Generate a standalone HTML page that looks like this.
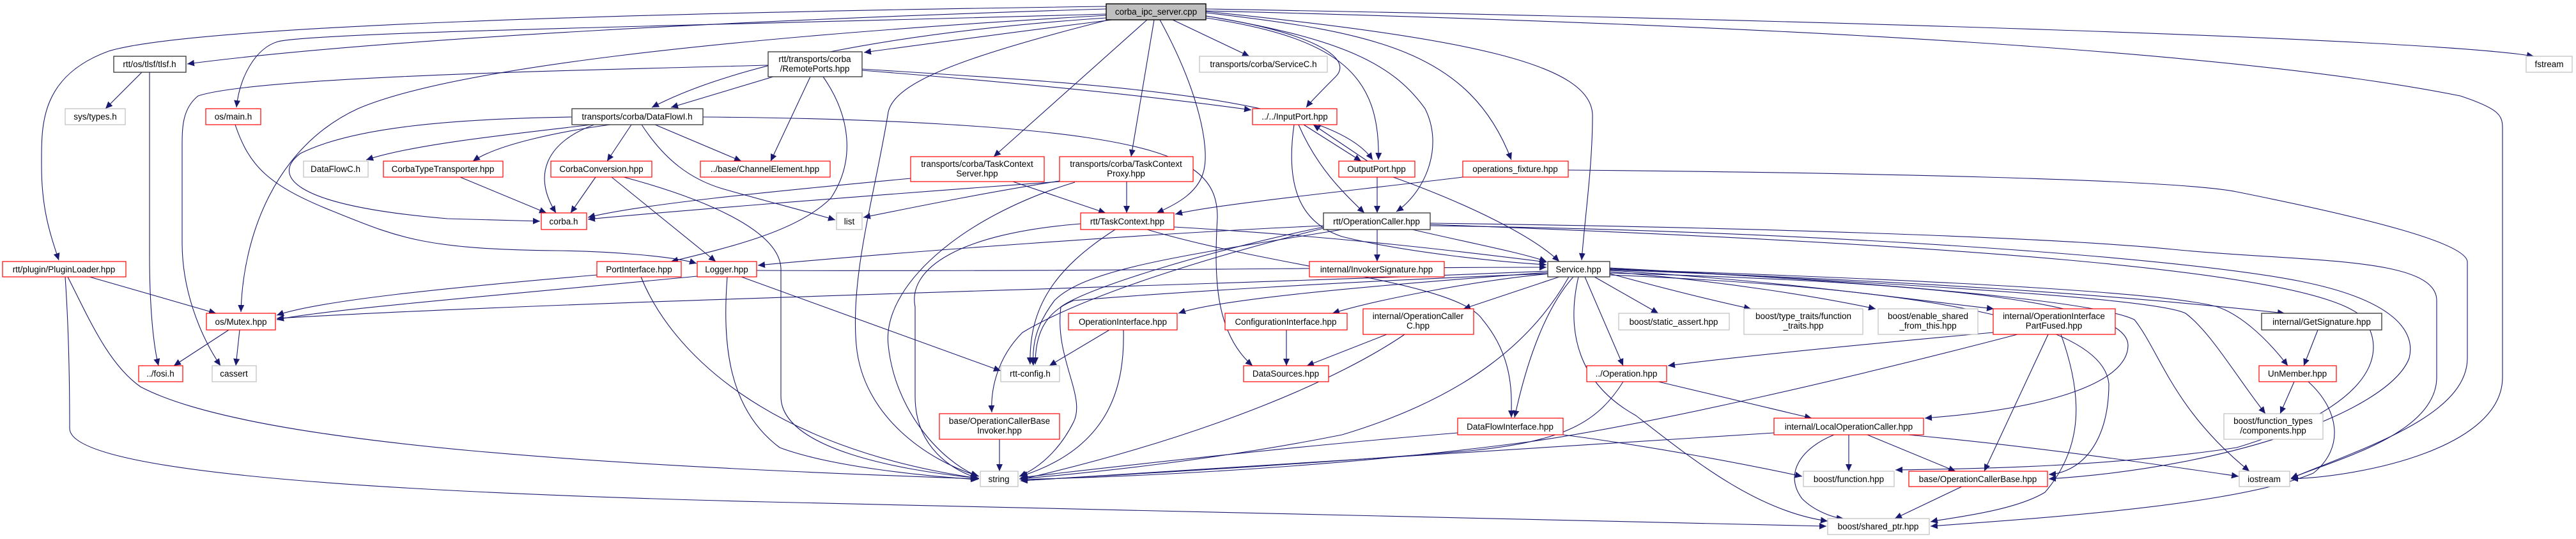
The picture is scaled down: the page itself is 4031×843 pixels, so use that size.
<!DOCTYPE html>
<html><head><meta charset="utf-8"><style>
html,body{margin:0;padding:0;background:#fff;}
svg{display:block;}
text{font-family:"Liberation Sans",sans-serif;font-size:13.5px;fill:#000;text-anchor:middle;}
.e{fill:none;stroke:#191970;stroke-width:1.1;marker-end:url(#a);}
.r{fill:#fff;stroke:#ff0000;stroke-width:1.2;}
.k{fill:#fff;stroke:#404040;stroke-width:1.4;}
.g{fill:#fff;stroke:#bfbfbf;stroke-width:1.2;}
</style></head><body>
<svg width="4031" height="843" viewBox="0 0 4031 843" xmlns="http://www.w3.org/2000/svg">
<defs><marker id="a" markerUnits="userSpaceOnUse" markerWidth="12" markerHeight="10" refX="11" refY="5" orient="auto"><path d="M0,0 L11,5 L0,10 z" fill="#191970"/></marker></defs>
<g>
<path class="e" d="M1731,14 C1200,30 600,60 293,100"/>
<path class="e" d="M1731,10 C1000,20 300,40 170,80 C60,120 65,200 65,260 C65,330 80,370 92,407"/>
<path class="e" d="M1731,22 C1100,40 500,50 435,65 C400,75 375,120 370,168"/>
<path class="e" d="M1740,31 Q1550,55 1352,82"/>
<path class="e" d="M1731,28 C1400,50 1150,100 1020,168"/>
<path class="e" d="M1210,120 L1050,168"/>
<path class="e" d="M1735,31 C1500,90 1400,130 1390,175 C1370,300 1330,430 1340,540 C1350,650 1450,720 1532,745"/>
<path class="e" d="M895,183 C700,186 550,200 470,240 C430,270 440,320 700,342 L845,346"/>
<path class="e" d="M1731,24 C1100,60 700,110 560,170 C430,230 380,370 377,488"/>
<path class="e" d="M1795,31 L1555,245"/>
<path class="e" d="M1806,31 L1770,245"/>
<path class="e" d="M1815,31 C1880,150 1890,230 1885,260 C1880,300 1840,320 1810,333"/>
<path class="e" d="M1835,31 L1955,88"/>
<path class="e" d="M1887,25 C2050,50 2120,90 2090,120 C2070,140 2050,160 2044,168"/>
<path class="e" d="M1887,28 C2100,60 2160,120 2157,250"/>
<path class="e" d="M1349,108 C1700,130 2080,150 2148,250"/>
<path class="e" d="M1887,25 C2100,60 2180,100 2230,170 C2260,230 2230,300 2185,331"/>
<path class="e" d="M1887,20 C2150,50 2300,80 2365,250"/>
<path class="e" d="M1887,18 C2300,60 2490,100 2492,180 C2492,260 2480,340 2475,407"/>
<path class="e" d="M1887,14 C2800,30 3800,60 3965,88"/>
<path class="e" d="M1887,17 C2800,40 3500,80 3850,150 C3910,170 3916,180 3916,200 L3916,590 C3916,700 3700,745 3585,749"/>
<path class="e" d="M222,113 L165,170"/>
<path class="e" d="M234,113 L234,400 C234,480 240,540 248,572"/>
<path class="e" d="M368,195 C390,260 420,290 520,330 C620,370 660,390 870,392 C950,393 1050,400 1090,412"/>
<path class="e" d="M140,433 L338,490"/>
<path class="e" d="M106,433 C140,500 170,570 220,605 C400,700 1000,730 1532,749"/>
<path class="e" d="M102,433 C108,520 109,600 109,670 C109,740 600,770 1200,785 C2000,805 2600,820 2858,823"/>
<path class="e" d="M358,516 L272,572"/>
<path class="e" d="M375,516 L369,572"/>
<path class="e" d="M1202,102 C900,110 400,120 310,150 C285,170 285,200 285,230 L285,380 C285,450 310,520 345,572"/>
<path class="e" d="M925,195 C800,210 650,225 573,250"/>
<path class="e" d="M955,195 C880,205 780,225 740,252"/>
<path class="e" d="M930,195 C860,220 830,270 870,333"/>
<path class="e" d="M988,195 L950,252"/>
<path class="e" d="M1025,195 L1160,252"/>
<path class="e" d="M1004,195 C1040,250 1080,280 1130,295 C1200,315 1260,330 1307,344"/>
<path class="e" d="M1100,183 C1400,185 1600,200 1700,215 C1870,240 1905,280 1905,340 C1900,430 1900,520 1960,572"/>
<path class="e" d="M1268,120 L1206,252"/>
<path class="e" d="M1288,120 C1330,180 1340,250 1300,310 C1250,360 1150,385 1050,409"/>
<path class="e" d="M1349,110 C1600,130 1800,150 1958,172"/>
<path class="e" d="M720,277 L855,333"/>
<path class="e" d="M932,277 L893,333"/>
<path class="e" d="M957,277 L1120,409"/>
<path class="e" d="M976,277 C1100,310 1220,360 1222,420 L1222,620 C1222,700 1400,735 1532,748"/>
<path class="e" d="M1425,279 C1200,300 1000,320 920,340"/>
<path class="e" d="M1585,284 L1730,333"/>
<path class="e" d="M1658,284 C1300,310 1000,335 920,343"/>
<path class="e" d="M1658,283 C1550,300 1450,320 1351,340"/>
<path class="e" d="M1682,285 C1500,340 1380,450 1390,540 C1400,640 1470,720 1530,745"/>
<path class="e" d="M1763,284 L1763,333"/>
<path class="e" d="M1691,350 C1500,365 1420,420 1432,480 L1432,620 C1432,700 1490,735 1530,748"/>
<path class="e" d="M1745,359 C1650,420 1610,480 1612,570"/>
<path class="e" d="M1837,355 C2100,370 2300,395 2420,410"/>
<path class="e" d="M1795,359 C2000,420 2280,440 2320,500 C2370,560 2365,620 2365,653"/>
<path class="e" d="M934,430 C700,450 500,470 433,493"/>
<path class="e" d="M1003,433 C1050,550 1200,700 1530,748"/>
<path class="e" d="M1091,432 C800,460 500,485 433,500"/>
<path class="e" d="M1160,433 L1566,580"/>
<path class="e" d="M1138,433 C1130,540 1140,640 1220,700 C1300,730 1450,745 1530,750"/>
<path class="e" d="M1184,423 C1700,425 2100,418 2420,418"/>
<path class="e" d="M2040,195 L2130,252"/>
<path class="e" d="M2140,252 L2055,195"/>
<path class="e" d="M2032,195 C2060,260 2100,300 2135,333"/>
<path class="e" d="M2025,195 C2010,300 2040,350 2100,370 C2200,395 2350,410 2420,414"/>
<path class="e" d="M2155,277 L2155,333"/>
<path class="e" d="M2180,277 C2300,320 2400,370 2440,409"/>
<path class="e" d="M2289,277 C2100,300 1900,320 1839,335"/>
<path class="e" d="M2454,266 C2900,270 3400,280 3500,300 C3700,340 3861,380 3861,410 L3861,560 C3861,650 3700,700 3585,748"/>
<path class="e" d="M2155,359 L2155,409"/>
<path class="e" d="M2210,359 C2300,380 2380,395 2420,409"/>
<path class="e" d="M2071,353 C1800,365 1400,395 1186,415"/>
<path class="e" d="M2100,359 C1850,400 1700,420 1650,470 C1620,510 1615,540 1617,572"/>
<path class="e" d="M2071,357 C1900,400 1700,460 1600,520 C1560,560 1550,610 1552,645"/>
<path class="e" d="M2238,349 C2700,355 3200,370 3400,390 C3600,410 3813,400 3813,470 L3813,590 C3813,680 3650,720 3585,748"/>
<path class="e" d="M2238,353 C2800,360 3400,400 3600,440 C3750,470 3780,520 3770,560 C3740,640 3500,730 3206,749"/>
<path class="e" d="M2238,351 C3000,380 3640,420 3700,500 C3740,560 3700,640 3500,700 C3300,730 3100,733 2966,735"/>
<path class="e" d="M2071,355 C1900,390 1700,450 1660,480 C1650,560 1700,620 1680,660 C1660,700 1630,730 1595,745"/>
<path class="e" d="M2422,426 C2100,450 1900,470 1844,490"/>
<path class="e" d="M2425,428 C2300,440 2150,470 2085,490"/>
<path class="e" d="M2440,433 L2290,483"/>
<path class="e" d="M2462,433 C2420,480 2390,560 2370,653"/>
<path class="e" d="M2480,433 L2540,572"/>
<path class="e" d="M2495,433 L2595,490"/>
<path class="e" d="M2519,428 C2600,450 2680,470 2740,483"/>
<path class="e" d="M2519,425 C2700,440 2850,465 2935,483"/>
<path class="e" d="M2519,423 C2800,440 3000,470 3120,483"/>
<path class="e" d="M2519,422 C3000,440 3300,460 3575,490"/>
<path class="e" d="M2519,421 C3100,440 3400,460 3470,480 C3500,490 3540,520 3580,572"/>
<path class="e" d="M2519,420 C3100,450 3380,470 3420,490 C3460,520 3500,590 3545,647"/>
<path class="e" d="M2519,419 C3100,450 3300,480 3340,500 C3380,550 3400,640 3520,737"/>
<path class="e" d="M2422,424 C1800,450 900,470 433,498"/>
<path class="e" d="M2422,428 C2100,440 1800,460 1680,470 C1630,490 1620,530 1620,570"/>
<path class="e" d="M2470,433 C2450,520 2470,600 2560,650 C2650,720 2750,800 2860,815"/>
<path class="e" d="M2455,433 C2400,530 2300,620 2100,680 C1900,720 1700,740 1595,749"/>
<path class="e" d="M2519,427 C3000,440 3330,470 3330,540 C3330,600 3200,640 3012,654"/>
<path class="e" d="M2519,430 C3000,450 3290,500 3300,600 C3300,700 3250,740 3206,742"/>
<path class="e" d="M1736,516 L1642,572"/>
<path class="e" d="M1758,516 C1760,600 1740,700 1597,745"/>
<path class="e" d="M2013,516 L2013,572"/>
<path class="e" d="M2170,523 L2045,572"/>
<path class="e" d="M2198,523 C2100,590 1900,680 1597,750"/>
<path class="e" d="M1564,687 L1564,737"/>
<path class="e" d="M2540,597 C2500,660 2450,690 2300,705 C2000,730 1700,745 1597,752"/>
<path class="e" d="M2595,597 L2835,654"/>
<path class="e" d="M2281,677 C2000,700 1700,735 1597,747"/>
<path class="e" d="M2446,680 C2600,700 2750,730 2820,745"/>
<path class="e" d="M3119,520 C2900,540 2700,560 2610,572"/>
<path class="e" d="M3157,523 C2900,590 2600,660 2400,690 C2100,730 1800,745 1597,750"/>
<path class="e" d="M3205,523 L3105,737"/>
<path class="e" d="M3225,523 C3260,620 3260,700 3200,770 C3150,800 3050,810 3021,816"/>
<path class="e" d="M2776,677 C2400,700 2000,730 1597,752"/>
<path class="e" d="M2893,680 L2893,737"/>
<path class="e" d="M2922,680 L3060,737"/>
<path class="e" d="M2870,680 C2820,700 2790,740 2820,780 C2840,800 2870,810 2885,811"/>
<path class="e" d="M2986,680 C3200,700 3400,730 3503,745"/>
<path class="e" d="M3070,761 L2965,811"/>
<path class="e" d="M3627,516 L3605,572"/>
<path class="e" d="M3590,597 L3568,647"/>
<path class="e" d="M3612,597 C3660,640 3670,700 3620,740 C3500,790 3200,810 3021,823"/>
</g>
<g>
<rect x="1731" y="6" width="156" height="25" fill="#bfbfbf" stroke="#000" stroke-width="1.4"/><text x="1809" y="23">corba_ipc_server.cpp</text>
<rect class="k" x="178" y="88" width="113" height="25"/><text x="234" y="105">rtt/os/tlsf/tlsf.h</text>
<rect class="g" x="102" y="170" width="94" height="25"/><text x="149" y="187">sys/types.h</text>
<rect class="r" x="322" y="170" width="86" height="25"/><text x="365" y="187">os/main.h</text>
<rect class="g" x="475" y="252" width="101" height="25"/><text x="525" y="269">DataFlowC.h</text>
<rect class="r" x="600" y="252" width="187" height="25"/><text x="693" y="269">CorbaTypeTransporter.hpp</text>
<rect class="r" x="4" y="409" width="193" height="24"/><text x="100" y="426">rtt/plugin/PluginLoader.hpp</text>
<rect class="r" x="323" y="490" width="108" height="26"/><text x="377" y="508">os/Mutex.hpp</text>
<rect class="r" x="217" y="572" width="69" height="25"/><text x="251" y="589">../fosi.h</text>
<rect class="g" x="332" y="572" width="69" height="25"/><text x="366" y="589">cassert</text>
<rect class="k" x="1202" y="81" width="147" height="39"/><text x="1275" y="97">rtt/transports/corba</text><text x="1275" y="112">/RemotePorts.hpp</text>
<rect class="k" x="895" y="170" width="205" height="25"/><text x="997" y="187">transports/corba/DataFlowI.h</text>
<rect class="r" x="862" y="252" width="158" height="25"/><text x="941" y="269">CorbaConversion.hpp</text>
<rect class="r" x="1096" y="252" width="203" height="25"/><text x="1197" y="269">../base/ChannelElement.hpp</text>
<rect class="r" x="847" y="333" width="71" height="26"/><text x="882" y="351">corba.h</text>
<rect class="g" x="1309" y="333" width="40" height="26"/><text x="1329" y="351">list</text>
<rect class="r" x="934" y="409" width="132" height="24"/><text x="1000" y="426">PortInterface.hpp</text>
<rect class="r" x="1091" y="409" width="93" height="24"/><text x="1137" y="426">Logger.hpp</text>
<rect class="g" x="1877" y="88" width="200" height="25"/><text x="1977" y="105">transports/corba/ServiceC.h</text>
<rect class="r" x="1960" y="170" width="132" height="25"/><text x="2026" y="187">../../InputPort.hpp</text>
<rect class="r" x="1425" y="245" width="209" height="39"/><text x="1529" y="261">transports/corba/TaskContext</text><text x="1529" y="276">Server.hpp</text>
<rect class="r" x="1658" y="245" width="209" height="39"/><text x="1762" y="261">transports/corba/TaskContext</text><text x="1762" y="276">Proxy.hpp</text>
<rect class="r" x="1691" y="333" width="146" height="26"/><text x="1764" y="351">rtt/TaskContext.hpp</text>
<rect class="r" x="1672" y="490" width="170" height="26"/><text x="1757" y="508">OperationInterface.hpp</text>
<rect class="r" x="1917" y="490" width="191" height="26"/><text x="2012" y="508">ConfigurationInterface.hpp</text>
<rect class="g" x="1566" y="572" width="92" height="25"/><text x="1612" y="589">rtt-config.h</text>
<rect class="r" x="1946" y="572" width="133" height="25"/><text x="2012" y="589">DataSources.hpp</text>
<rect class="r" x="1470" y="647" width="188" height="40"/><text x="1564" y="663">base/OperationCallerBase</text><text x="1564" y="678">Invoker.hpp</text>
<rect class="g" x="1534" y="737" width="59" height="24"/><text x="1563" y="754">string</text>
<rect class="r" x="2095" y="252" width="119" height="25"/><text x="2154" y="269">OutputPort.hpp</text>
<rect class="r" x="2289" y="252" width="165" height="25"/><text x="2371" y="269">operations_fixture.hpp</text>
<rect class="k" x="2071" y="333" width="167" height="26"/><text x="2154" y="351">rtt/OperationCaller.hpp</text>
<rect class="r" x="2049" y="409" width="211" height="24"/><text x="2154" y="426">internal/InvokerSignature.hpp</text>
<rect class="k" x="2422" y="409" width="97" height="24"/><text x="2470" y="426">Service.hpp</text>
<rect class="r" x="2133" y="483" width="173" height="40"/><text x="2219" y="499">internal/OperationCaller</text><text x="2219" y="514">C.hpp</text>
<rect class="g" x="2533" y="490" width="173" height="26"/><text x="2619" y="508">boost/static_assert.hpp</text>
<rect class="r" x="2483" y="572" width="125" height="25"/><text x="2545" y="589">../Operation.hpp</text>
<rect class="r" x="2281" y="654" width="165" height="26"/><text x="2363" y="672">DataFlowInterface.hpp</text>
<rect class="g" x="2729" y="483" width="186" height="40"/><text x="2822" y="499">boost/type_traits/function</text><text x="2822" y="514">_traits.hpp</text>
<rect class="g" x="2939" y="483" width="156" height="40"/><text x="3017" y="499">boost/enable_shared</text><text x="3017" y="514">_from_this.hpp</text>
<rect class="r" x="3119" y="483" width="191" height="40"/><text x="3214" y="499">internal/OperationInterface</text><text x="3214" y="514">PartFused.hpp</text>
<rect class="r" x="2776" y="654" width="234" height="26"/><text x="2893" y="672">internal/LocalOperationCaller.hpp</text>
<rect class="g" x="2822" y="737" width="142" height="24"/><text x="2893" y="754">boost/function.hpp</text>
<rect class="r" x="2987" y="737" width="217" height="24"/><text x="3095" y="754">base/OperationCallerBase.hpp</text>
<rect class="g" x="2860" y="811" width="159" height="25"/><text x="2939" y="828">boost/shared_ptr.hpp</text>
<rect class="g" x="3953" y="88" width="72" height="25"/><text x="3989" y="105">fstream</text>
<rect class="k" x="3539" y="490" width="188" height="26"/><text x="3633" y="508">internal/GetSignature.hpp</text>
<rect class="r" x="3535" y="572" width="121" height="25"/><text x="3595" y="589">UnMember.hpp</text>
<rect class="g" x="3480" y="647" width="155" height="40"/><text x="3557" y="663">boost/function_types</text><text x="3557" y="678">/components.hpp</text>
<rect class="g" x="3504" y="737" width="79" height="24"/><text x="3543" y="754">iostream</text>
</g>
</svg>
</body></html>
